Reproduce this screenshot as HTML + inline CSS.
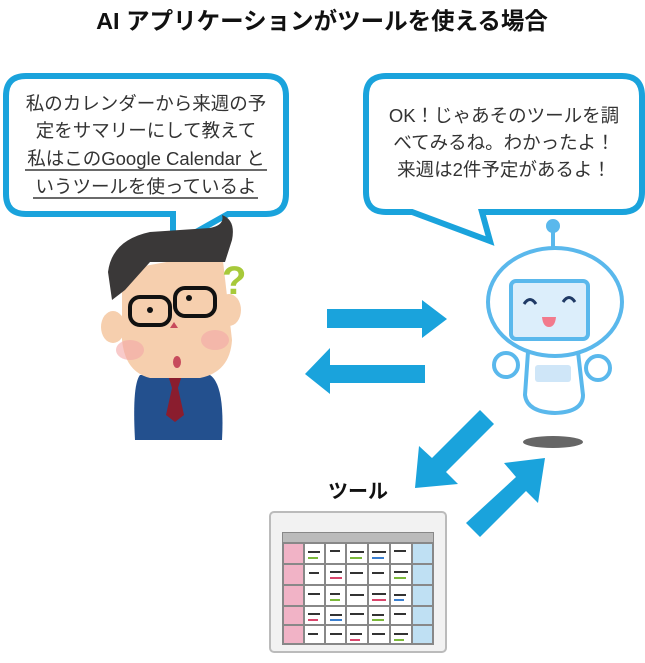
<!DOCTYPE html>
<html><head><meta charset="utf-8"><style>
html,body{margin:0;padding:0;background:#fff;}
svg{display:block;font-family:"Liberation Sans","Noto Sans CJK JP",sans-serif;}
</style></head><body>
<svg width="645" height="663" viewBox="0 0 645 663" xmlns="http://www.w3.org/2000/svg">
<text x="322" y="29" text-anchor="middle" font-size="23.5" font-weight="bold" fill="#111">AI アプリケーションがツールを使える場合</text>

<!-- bubbles -->
<g fill="#fff" stroke="#1aa3dc" stroke-width="6" stroke-linejoin="miter">
<path d="M26,76 H266 Q286,76 286,96 V194 Q286,214 266,214 H228 L173,245 V214 H26 Q6,214 6,194 V96 Q6,76 26,76 Z"/>
<path d="M386,76 H622 Q642,76 642,96 V192 Q642,212 622,212 H482 L490,241 L412,212 H386 Q366,212 366,192 V96 Q366,76 386,76 Z"/>
</g>
<g font-size="18.5" fill="#333" text-anchor="middle">
<text x="146" y="110">私のカレンダーから来週の予</text>
<text x="146" y="137">定をサマリーにして教えて</text>
<text x="146" y="165">私はこのGoogle Calendar と</text>
<text x="146" y="193">いうツールを使っているよ</text>
<text x="504" y="122">OK！じゃあそのツールを調</text>
<text x="504" y="149">べてみるね。わかったよ！</text>
<text x="504" y="176">来週は2件予定があるよ！</text>
</g>
<line x1="25" y1="170" x2="267" y2="170" stroke="#111" stroke-width="1.2"/>
<line x1="33" y1="198" x2="258" y2="198" stroke="#111" stroke-width="1.2"/>

<!-- arrows -->
<g fill="#1aa3dc">
<polygon points="327,309 422,309 422,300 447,319 422,338 422,328 327,328"/>
<polygon points="425,365 330,365 330,348 305,374 330,394 330,383 425,383"/>
<polygon points="480,410 494,424 446,472 458,484 415,488 419,446 432,458"/>
<polygon points="466,523 480,537 526,491 538,503 545,458 504,463 516,477"/>
</g>

<!-- man -->
<g>
<path d="M140,375 L210,375 Q225,385 222,440 L135,440 Q132,385 140,375 Z" fill="#23508e"/>
<path d="M168,375 L182,375 L178,388 L184,415 L175,422 L166,415 L172,388 Z" fill="#8a1d2e"/>
<ellipse cx="113" cy="327" rx="12" ry="16" fill="#f6cfae"/>
<ellipse cx="229" cy="310" rx="12" ry="16" fill="#f6cfae"/>
<path d="M122,270 L222,252 L232,340 Q230,372 200,378 L150,378 Q125,372 122,340 Z" fill="#f6cfae"/>
<path d="M108,272 Q112,240 150,232 L210,228 Q225,225 222,215 Q236,220 232,240 L225,262 L150,262 L125,290 L112,300 Z" fill="#3a3838"/>
<ellipse cx="130" cy="350" rx="14" ry="10" fill="#f4a7a7" opacity=".6"/>
<ellipse cx="215" cy="340" rx="14" ry="10" fill="#f4a7a7" opacity=".6"/>
<rect x="130" y="297" width="40" height="28" rx="10" fill="none" stroke="#111" stroke-width="4"/>
<rect x="175" y="288" width="40" height="28" rx="10" fill="none" stroke="#111" stroke-width="4"/>
<circle cx="150" cy="310" r="3" fill="#111"/><circle cx="189" cy="298" r="3" fill="#111"/>
<path d="M170,328 l4,-6 l4,6 z" fill="#c74b5c"/>
<ellipse cx="177" cy="362" rx="4" ry="6" fill="#c74b5c"/>
<text x="222" y="294" font-size="40" font-weight="bold" fill="#a7c93a">?</text>
</g>

<!-- robot -->
<g stroke="#5ab8ec" stroke-width="4" fill="#fff">
<line x1="553" y1="230" x2="553" y2="250"/>
<circle cx="553" cy="226" r="5" fill="#5ab8ec"/>
<path d="M528,352 L578,352 L583,395 Q583,412 555,413 Q527,412 525,395 Z"/>
<circle cx="506" cy="365" r="12"/><circle cx="598" cy="368" r="12"/>
<ellipse cx="555" cy="302" rx="67" ry="54"/>
<rect x="511" y="281" width="77" height="58" rx="5" fill="#dceefb"/>
</g>
<rect x="535" y="365" width="36" height="17" rx="3" fill="#cfe6f8"/>
<path d="M524,304 q6,-9 12,0 M563,302 q6,-9 12,0" stroke="#1f3a66" stroke-width="3" fill="none"/>
<path d="M542,317 h14 q-1,10 -7,10 q-6,0 -7,-10 z" fill="#f27a8c"/>
<ellipse cx="553" cy="442" rx="30" ry="6" fill="#666"/>

<!-- tool -->
<text x="358" y="498" text-anchor="middle" font-size="20" font-weight="bold" fill="#111">ツール</text>
<rect x="270" y="512" width="176" height="140" rx="4" fill="#f2f2f2" stroke="#bbb" stroke-width="2"/>
<rect x="282" y="532" width="152" height="113" fill="#888"/>
<rect x="283" y="533" width="150" height="9" fill="#bbb"/>
<g>
<rect x="284" y="544" width="19" height="19" fill="#f1b3c6"/><rect x="284" y="565" width="19" height="19" fill="#f1b3c6"/><rect x="284" y="586" width="19" height="19" fill="#f1b3c6"/><rect x="284" y="607" width="19" height="17" fill="#f1b3c6"/><rect x="284" y="626" width="19" height="17" fill="#f1b3c6"/>
<rect x="413" y="544" width="19" height="19" fill="#bfe0f3"/><rect x="413" y="565" width="19" height="19" fill="#bfe0f3"/><rect x="413" y="586" width="19" height="19" fill="#bfe0f3"/><rect x="413" y="607" width="19" height="17" fill="#bfe0f3"/><rect x="413" y="626" width="19" height="17" fill="#bfe0f3"/>
</g>
<g fill="#fff">
<rect x="305" y="544" width="19" height="19"/><rect x="326" y="544" width="19" height="19"/><rect x="347" y="544" width="20" height="19"/><rect x="369" y="544" width="20" height="19"/><rect x="391" y="544" width="20" height="19"/>
<rect x="305" y="565" width="19" height="19"/><rect x="326" y="565" width="19" height="19"/><rect x="347" y="565" width="20" height="19"/><rect x="369" y="565" width="20" height="19"/><rect x="391" y="565" width="20" height="19"/>
<rect x="305" y="586" width="19" height="19"/><rect x="326" y="586" width="19" height="19"/><rect x="347" y="586" width="20" height="19"/><rect x="369" y="586" width="20" height="19"/><rect x="391" y="586" width="20" height="19"/>
<rect x="305" y="607" width="19" height="17"/><rect x="326" y="607" width="19" height="17"/><rect x="347" y="607" width="20" height="17"/><rect x="369" y="607" width="20" height="17"/><rect x="391" y="607" width="20" height="17"/>
<rect x="305" y="626" width="19" height="17"/><rect x="326" y="626" width="19" height="17"/><rect x="347" y="626" width="20" height="17"/><rect x="369" y="626" width="20" height="17"/><rect x="391" y="626" width="20" height="17"/>
</g>
<g stroke-width="2" fill="none">
<path d="M308,552 h12 M330,551 h10 M350,552 h14 M372,552 h14 M394,551 h12 M309,573 h10 M330,572 h12 M350,573 h13 M372,573 h12 M394,572 h14 M308,594 h12 M330,594 h10 M350,595 h14 M372,594 h14 M394,595 h12 M308,614 h12 M330,615 h12 M350,614 h14 M372,615 h12 M394,614 h12 M308,634 h10 M330,634 h12 M350,634 h12 M372,634 h13 M394,634 h14" stroke="#333"/>
<path d="M308,558 h10 M350,558 h12 M394,578 h12 M330,600 h10 M372,620 h12 M394,640 h10" stroke="#7bb83a"/>
<path d="M330,578 h12 M372,600 h14 M308,620 h10 M350,640 h10" stroke="#d9466c"/>
<path d="M372,558 h12 M394,600 h10 M330,620 h12" stroke="#3a7fd0"/>
</g>
</svg>
</body></html>
